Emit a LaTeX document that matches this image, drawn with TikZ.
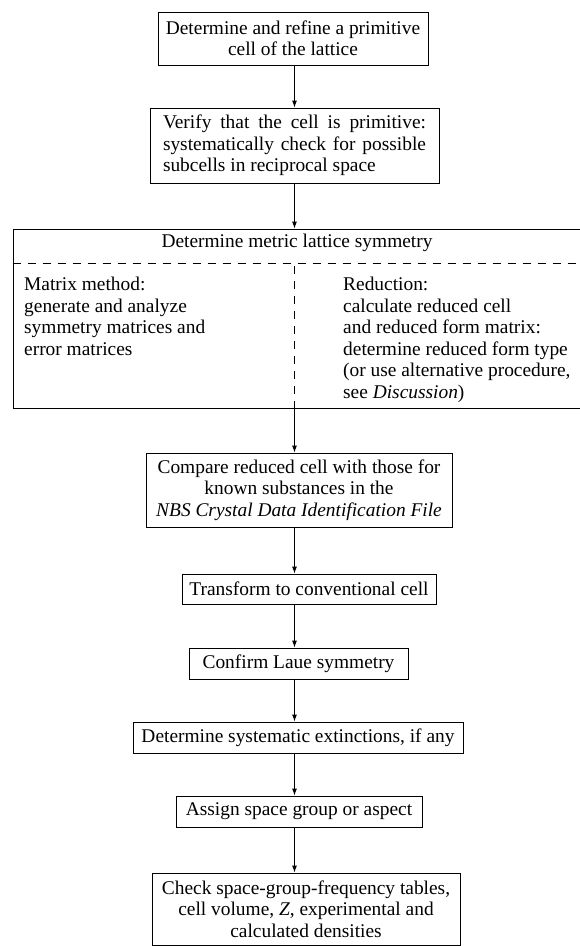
\documentclass[tikz,border=0pt]{standalone}
\usepackage{fontspec}
\setmainfont{Liberation Serif}
\usepackage{tikz}
\usetikzlibrary{arrows.meta}

\tikzset{
	stagebox/.style = {draw, line width = 0.9pt, inner sep = 0pt, align = center},
	flow/.style = {-{Latex[length = 7pt, width = 5pt]}, line width = 0.9pt},
	splitline/.style = {line width = 0.8pt, dash pattern = on 8pt off 7pt}
}

\begin{document}
\begin{tikzpicture}[x = 1pt, y = -1pt, font = \fontsize{19.4}{21.5}\selectfont]
			\useasboundingbox (0, 0) rectangle (579, 946);
			\coordinate (axis) at (294.5, 0);
			\coordinate (rule) at (0, 263);
			\coordinate (splitstart) at (0, 266);
			\node[stagebox, minimum width = 270pt, minimum height = 53pt] (refine) at (293, 38.5) {Determine and refine a primitive\\cell of the lattice};
			\node[stagebox, minimum width = 289pt, minimum height = 75pt, text width = 263pt, align = justify] (verify) at (294.5, 145.5) {Verify that the cell is primitive:\linebreak systematically check for possible\linebreak subcells in reciprocal space};
			\node[stagebox, minimum width = 572pt, minimum height = 179pt] (metric) at (299, 318.5) {};
			\node (metrictitle) at (297, 243) {Determine metric lattice symmetry};
			\draw[splitline] (metric.west |- rule) -- (metric.east |- rule);
			\draw[splitline] (axis |- splitstart) -- (axis |- metric.south);
			\node[anchor = north west, align = left, inner sep = 0pt] (matrixcol) at (24, 277) {Matrix method:\\generate and analyze\\symmetry matrices and\\error matrices};
			\node[anchor = north west, align = left, inner sep = 0pt] (reducecol) at (343, 277) {Reduction:\\calculate reduced cell\\and reduced form matrix:\\determine reduced form type\\(or use alternative procedure,\\see \textit{Discussion})};
			\node[stagebox, minimum width = 306pt, minimum height = 74pt] (compare) at (299, 490) {Compare reduced cell with those for\\known substances in the\\\textit{NBS Crystal Data Identification File}};
			\node[stagebox, minimum width = 254pt, minimum height = 30pt] (transform) at (309, 589) {Transform to conventional cell};
			\node[stagebox, minimum width = 219pt, minimum height = 31pt] (laue) at (298.5, 663.5) {Confirm Laue symmetry};
			\node[stagebox, minimum width = 330pt, minimum height = 31pt] (extinct) at (298, 737.5) {Determine systematic extinctions, if any};
			\node[stagebox, minimum width = 246pt, minimum height = 31pt] (assign) at (299, 811.5) {Assign space group or aspect};
			\node[stagebox, minimum width = 308pt, minimum height = 72pt] (check) at (306, 909) {Check space-group-frequency tables,\\cell volume, \textit{Z}, experimental and\\calculated densities};
			\draw[flow] (refine.south -| axis) -- (verify.north -| axis);
			\draw[flow] (verify.south -| axis) -- (metric.north -| axis);
			\draw[flow] (metric.south -| axis) -- (compare.north -| axis);
			\draw[flow] (compare.south -| axis) -- (transform.north -| axis);
			\draw[flow] (transform.south -| axis) -- (laue.north -| axis);
			\draw[flow] (laue.south -| axis) -- (extinct.north -| axis);
			\draw[flow] (extinct.south -| axis) -- (assign.north -| axis);
			\draw[flow] (assign.south -| axis) -- (check.north -| axis);
		\end{tikzpicture}
\end{document}
